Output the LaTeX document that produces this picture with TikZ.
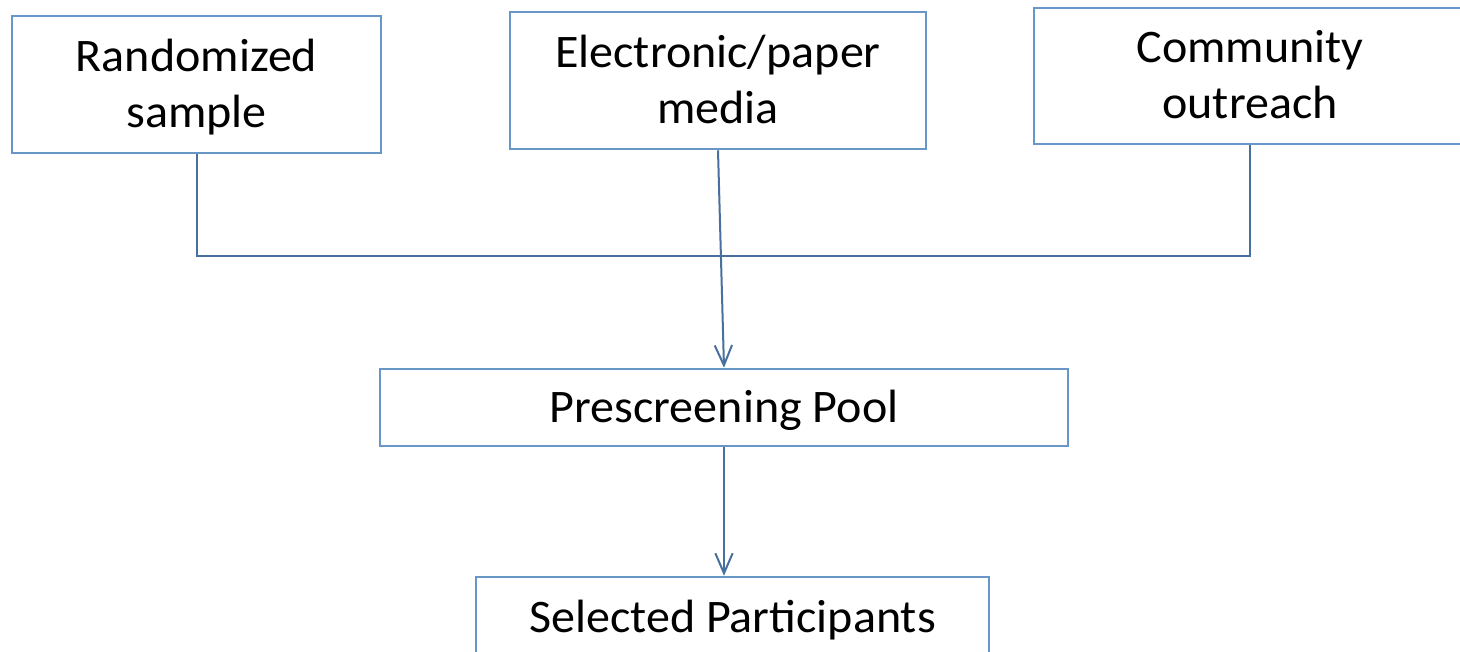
\documentclass[tikz,border=0pt]{standalone}
\usepackage{fontspec}
\setmainfont{Carlito}[FakeStretch=1.03]
\usetikzlibrary{arrows.meta}
\definecolor{boxline}{RGB}{104,150,198}
\definecolor{conline}{RGB}{72,112,158}
\tikzset{
  box/.style={draw=boxline, line width=1.9pt, fill=white, align=center, inner sep=0pt,
    font=\fontsize{35}{42}\selectfont, text=black, text depth=0.35ex},
  conn/.style={draw=conline, line width=1.5pt},
  arr/.style={conn, -{Straight Barb[length=15pt, width=13pt, line width=1.5pt]}}
}
\begin{document}
\begin{tikzpicture}[x=0.75pt, y=-0.75pt]
\clip (0,0) rectangle (1460,651);
\fill[white] (0,0) rectangle (1460,651);
\node[box, minimum width=369*0.75pt, minimum height=137*0.75pt] (rand) at (196.5,84.5) {Randomized\\sample};
\node[box, minimum width=416*0.75pt, minimum height=137*0.75pt] (elec) at (718,80.5) {Electronic/paper\\media};
\node[box, minimum width=432*0.75pt, minimum height=136*0.75pt] (comm) at (1250,76) {Community\\outreach};
\node[box, minimum width=688*0.75pt, minimum height=77*0.75pt] (pool) at (724,407.5) {Prescreening Pool};
\node[box, minimum width=513*0.75pt, minimum height=80*0.75pt] (sel) at (732.5,617) {Selected Participants};
\coordinate (hl) at (196.5,256);
\coordinate (hr) at (1250,256);
\draw[conn] (rand.south) -- (hl) -- (hr) -- (comm.south);
\draw[arr] (elec.south) -- (pool.north);
\draw[arr] (pool.south) -- (pool.south |- sel.north);
\end{tikzpicture}
\end{document}
